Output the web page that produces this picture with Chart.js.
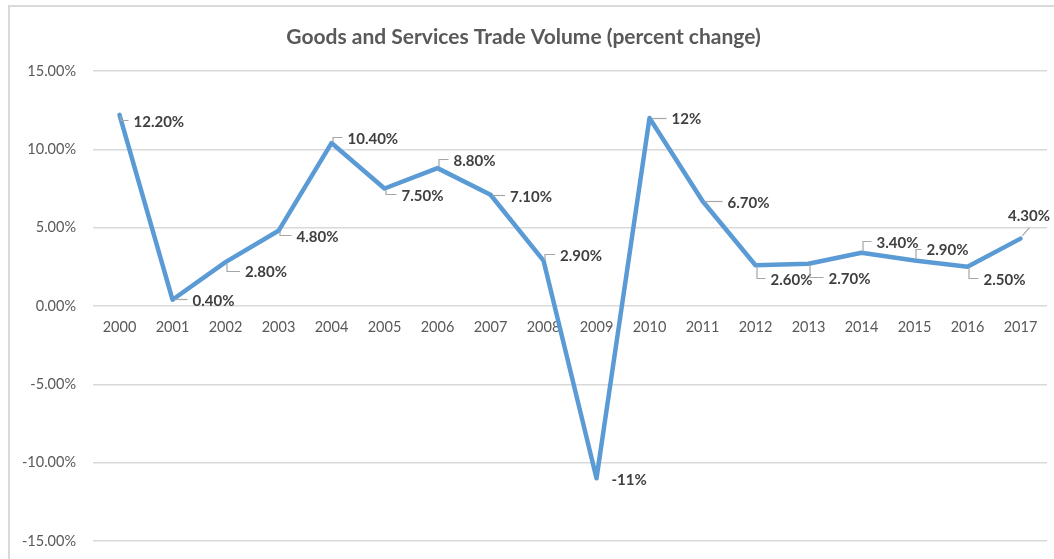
<!DOCTYPE html>
<html>
<head>
<meta charset="utf-8">
<script src="https://cdn.jsdelivr.net/npm/chart.js@4.4.1/dist/chart.umd.min.js"></script>
<style>
  html, body { margin: 0; padding: 0; background: #ffffff; }
  #wrap { position: absolute; left: 0; top: 0; width: 1054px; height: 559px; }
</style>
</head>
<body>
<div id="wrap"><canvas id="c" width="1054" height="559"></canvas></div>
<script>
// ---- data ----
const years = ['2000','2001','2002','2003','2004','2005','2006','2007','2008','2009','2010','2011','2012','2013','2014','2015','2016','2017'];
const tradeVolume = [12.2, 0.4, 2.8, 4.8, 10.4, 7.5, 8.8, 7.1, 2.9, -11, 12, 6.7, 2.6, 2.7, 3.4, 2.9, 2.5, 4.3];
const valueLabels = ['12.20%','0.40%','2.80%','4.80%','10.40%','7.50%','8.80%','7.10%','2.90%','-11%','12%','6.70%','2.60%','2.70%','3.40%','2.90%','2.50%','4.30%'];
const yTicks = [-15, -10, -5, 0, 5, 10, 15];
const chartTitle = 'Goods and Services Trade Volume (percent change)';

// ---- label placement (style only): [dx, dy, leader, align] relative to each point ----
const labelPlacement = [
  [14, 7.5, 'L', 'left'], [20, 1.5, 'h', 'left'], [19.5, 10.5, 'L', 'left'], [18, 6.5, 'L', 'left'],
  [16, -4, 'L', 'left'], [17, 7.5, 'L', 'left'], [16, -7, 'L', 'left'], [19.5, 2, 'h', 'left'],
  [16.5, -4.5, 'L', 'left'], [15, 1.5, 'none', 'left'], [22, 1.5, 'h', 'left'], [25, 2, 'h', 'left'],
  [15, 15, 'L', 'left'], [20, 15.5, 'L', 'left'], [15, -10, 'L', 'left'], [12, -10, 'L', 'left'],
  [16, 13, 'L', 'left'], [29.5, -22.5, 'diag', 'right']
];

const FONT = 'Lato, "Open Sans", "DejaVu Sans", sans-serif';

const frame = {
  id: 'frame',
  beforeDraw(chart) {
    const ctx = chart.ctx;
    ctx.save();
    ctx.fillStyle = '#ffffff';
    ctx.fillRect(0, 0, chart.width, chart.height);
    ctx.strokeStyle = '#d9d9d9';
    ctx.lineWidth = 2;
    ctx.beginPath();
    ctx.moveTo(9, chart.height);
    ctx.lineTo(9, 6);
    ctx.lineTo(chart.width, 6);
    ctx.stroke();
    ctx.restore();
  }
};

const dataLabels = {
  id: 'dataLabels',
  afterDatasetsDraw(chart) {
    const ctx = chart.ctx;
    const meta = chart.getDatasetMeta(0);
    ctx.save();
    ctx.font = 'bold 15px ' + FONT;
    ctx.textBaseline = 'middle';
    meta.data.forEach((pt, i) => {
      const [dx, dy, leader, align] = labelPlacement[i];
      const px = pt.x, py = pt.y;
      const ty = py + dy;
      ctx.strokeStyle = '#a6a6a6';
      ctx.lineWidth = 1.2;
      ctx.beginPath();
      if (leader === 'h') {
        ctx.moveTo(px + 2, Math.round(ty) - 1.5);
        ctx.lineTo(px + dx - 5, Math.round(ty) - 1.5);
      } else if (leader === 'L') {
        const ly = Math.round(ty) - 1.5;
        const sy = dy > 0 ? py + 1 : py - 1;
        ctx.moveTo(px + 1.5, sy);
        ctx.lineTo(px + 1.5, ly);
        ctx.lineTo(px + dx - 5, ly);
      } else if (leader === 'diag') {
        ctx.moveTo(px + 2, py - 3);
        ctx.lineTo(px + 9, py - 11);
      }
      ctx.stroke();
      ctx.fillStyle = '#404040';
      ctx.textAlign = align;
      ctx.fillText(valueLabels[i], px + dx, ty);
    });
    ctx.restore();
  }
};

new Chart(document.getElementById('c'), {
  type: 'line',
  data: {
    labels: years,
    datasets: [{
      data: tradeVolume,
      borderColor: '#5b9bd5',
      borderWidth: 4.5,
      borderJoinStyle: 'round',
      borderCapStyle: 'round',
      pointRadius: 0,
      pointHoverRadius: 0,
      tension: 0,
      fill: false
    }]
  },
  options: {
    responsive: false,
    animation: false,
    layout: { padding: { left: 0, right: 7, top: 0, bottom: 18 } },
    plugins: {
      legend: { display: false },
      tooltip: { enabled: false },
      title: {
        display: true,
        text: chartTitle,
        color: '#595959',
        font: { family: FONT, size: 21, weight: 'bold', lineHeight: 1.2 },
        padding: { top: 24.4, bottom: 21.4 }
      }
    },
    scales: {
      x: {
        type: 'category',
        position: { y: 0 },
        offset: true,
        afterFit(scale) { scale.height = 0; },
        grid: { display: false, drawTicks: false },
        border: { display: false },
        ticks: {
          color: '#595959',
          font: { family: FONT, size: 14.5 },
          padding: 13,
          maxRotation: 0,
          autoSkip: false
        }
      },
      y: {
        min: -15,
        max: 15,
        afterFit(scale) {
          scale.width = 93;
          scale.paddingTop = 9;
          scale.paddingBottom = 9;
        },
        afterBuildTicks(scale) { scale.ticks = yTicks.map(v => ({ value: v })); },
        grid: { color: '#d9d9d9', lineWidth: 1.5, drawTicks: false },
        border: { display: false },
        ticks: {
          color: '#595959',
          font: { family: FONT, size: 14.5 },
          padding: 17,
          callback: v => v.toFixed(2) + '%'
        }
      }
    }
  },
  plugins: [frame, dataLabels]
});
</script>
</body>
</html>
